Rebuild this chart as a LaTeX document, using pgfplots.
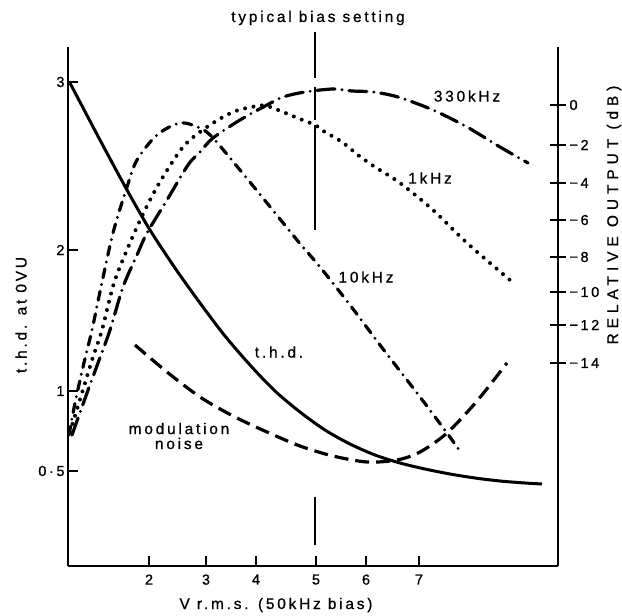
\documentclass[border=0pt]{standalone}
\usepackage{fontspec}
\setmainfont{Liberation Sans}[LetterSpace=18, FakeBold=0.8]
\usepackage{pgfplots}
\pgfplotsset{compat=1.18}
\newcommand\lab{\fontsize{15.5}{18}\selectfont}
\tikzset{
 thd/.style={black, line width=3bp},
 noise/.style={black, line width=3.2bp, dash pattern=on 14bp off 7bp},
 k10/.style={black, line width=3.2bp, line cap=round, dash pattern=on 9bp off 7bp on 0bp off 7bp},
 k330/.style={black, line width=3.2bp, line cap=round, dash pattern=on 18bp off 7bp on 0bp off 7bp},
 k1/.style={black, line width=4bp, line cap=round, dash pattern=on 0bp off 8.5bp},
 bias/.style={black, line width=2.2bp},
}
\begin{document}
\begin{tikzpicture}
\pgfplotsset{
 common/.style={
  scale only axis, width=490bp, height=519bp,
  xmin=68, xmax=558, ymin=49, ymax=568,
  clip=false,
  axis line style={line width=2.2bp},
  major tick style={line width=2bp, black},
  tick label style={font=\fontsize{14.5}{16}\selectfont},
 }
}
\begin{axis}[common,
 axis x line*=bottom, axis y line*=left,
 xtick={149,206,256,316,366,419}, xticklabels={2,3,4,5,6,7},
 ytick={144,224,365,533}, yticklabels={0·5,1,2,3},
 tick align=inside, major tick length=10bp,
 xticklabel style={yshift=-5bp},
]
% t.h.d.
\addplot[thd, smooth] coordinates {(70,532)(100,475)(127,425)(150,385)(175,347)(200,312)(225,279)(250,250)(275,224)(300,203)(325,185)(350,171)(375,160)(400,152)(425,146)(450,141)(475,137)(500,134)(525,132)(542,131)};
% modulation noise
\addplot[noise, smooth] coordinates {(135,270)(167,243)(200,218)(233,199)(267,183)(300,169)(333,159)(367,153)(397,155)(420,163)(447,182)(477,214)(507,252)};
% 10 kHz
\addplot[k10, smooth] coordinates {(69,180)(75,212)(83,248)(92,285)(101,328)(113,382)(127,428)(137,455)(157,480)(180,492)(200,487)(213,477)(240,445)(267,412)(297,375)(320,348)(350,310)(383,266)(417,222)(447,182)(462,161)};
% 1 kHz
\addplot[k1, smooth] coordinates {(70,183)(82,222)(92,255)(102,285)(115,335)(137,388)(157,428)(183,468)(207,488)(233,503)(257,509)(267,509)(283,503)(300,496)(315,490)(325,483)(342,473)(358,460)(375,448)(400,432)(433,405)(467,372)(510,335)};
% 330 kHz
\addplot[k330, smooth] coordinates {(72,180)(87,222)(98,252)(110,285)(123,328)(137,360)(147,382)(167,415)(188,450)(200,463)(213,477)(240,495)(267,510)(283,518)(305,523)(333,526)(352,524)(373,523)(398,518)(433,505)(467,488)(500,468)(528,452)};
% typical bias setting line
\addplot[bias] coordinates {(315,583)(315,537)};
\addplot[bias] coordinates {(315,528)(315,495)};
\addplot[bias] coordinates {(315,490)(315,385)};
\addplot[bias] coordinates {(315,118)(315,70)};

\coordinate (BL) at (axis cs:0,0);
\coordinate (TR) at (axis cs:622,615);

\node[font=\lab] at (axis cs:318,597) {typical bias setting};
\node[font=\lab] at (axis cs:467,519) {330kHz};
\node[font=\lab] at (axis cs:430,437) {1kHz};
\node[font=\lab] at (axis cs:366,338) {10kHz};
\node[font=\lab] at (axis cs:279,263) {t.h.d.};
\node[font=\lab, align=center, inner sep=0pt] at (axis cs:179,179) {modulation\\[-3pt]noise};
\node[font=\lab, rotate=90] at (axis cs:21,300) {t.h.d. at 0VU};
\node[font=\lab\addfontfeatures{LetterSpace=32}, rotate=90] at (axis cs:614,400) {RELATIVE OUTPUT (dB)};
\node[font=\lab] at (axis cs:276,10) {V r.m.s. (50kHz bias)};
\end{axis}
\begin{axis}[common, axis y line*=right, axis x line=none,
 ytick={252,290,323,358,395,432,470,510},
 yticklabels={−14,−12,−10,−8,−6,−4,−2,0},
 tick align=center, major tick length=16bp]
\end{axis}
\pgfresetboundingbox
\useasboundingbox (BL) rectangle (TR);
\end{tikzpicture}
\end{document}
